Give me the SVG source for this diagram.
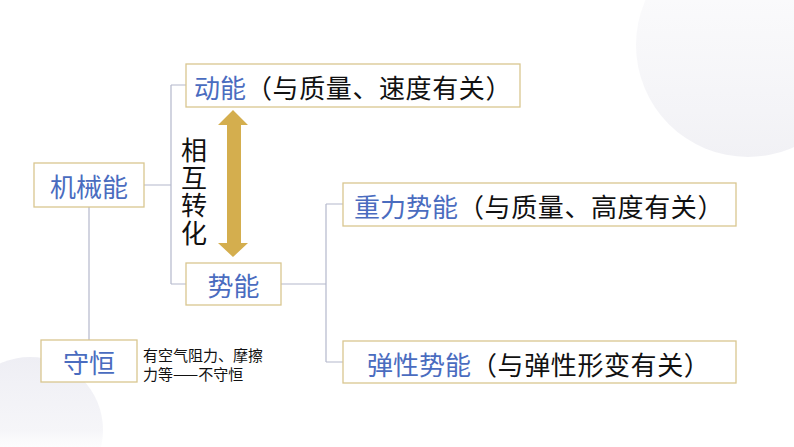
<svg xmlns="http://www.w3.org/2000/svg" width="794" height="447" viewBox="0 0 794 447">
<defs>
<linearGradient id="gTR" x1="0" y1="0" x2="0" y2="1">
<stop offset="0" stop-color="#f3f3f7" stop-opacity="0"/>
<stop offset="0.45" stop-color="#f5f5f8" stop-opacity="0.7"/>
<stop offset="1" stop-color="#f1f1f5" stop-opacity="1"/>
</linearGradient>
<linearGradient id="gBL" x1="0" y1="0" x2="0" y2="1">
<stop offset="0" stop-color="#eeeef4" stop-opacity="1"/>
<stop offset="0.5" stop-color="#f3f3f7" stop-opacity="0.8"/>
<stop offset="0.75" stop-color="#ffffff" stop-opacity="0"/>
</linearGradient>
<style>
.box{fill:#ffffff;stroke:#d9c690;stroke-width:1.3}
.con{fill:none;stroke:#b4b8cc;stroke-width:1.2}
.t{font-family:"Noto Sans CJK SC","Noto Sans",sans-serif;font-size:26px;dominant-baseline:central;text-spacing-trim:space-all}
.blue{fill:#4a6cbf}
.blk{fill:#111111;letter-spacing:0.6px}
.small{font-family:"Noto Sans CJK SC","Noto Sans",sans-serif;font-size:15px;fill:#111111;dominant-baseline:central}
</style>
</defs>
<rect x="0" y="0" width="794" height="447" fill="#ffffff"/>
<circle cx="748" cy="45" r="112" fill="url(#gTR)"/>
<circle cx="30" cy="430" r="73" fill="url(#gBL)"/>

<g id="connectors">
<path class="con" d="M144 185 H171 M171 85 V284 M171 85 H186 M171 284 H186"/>
<path class="con" d="M89 207 V340"/>
<path class="con" d="M281 284 H326 M326 204 V362 M326 204 H343 M326 362 H343"/>
</g>

<g id="arrow">
<polygon fill="#d4ae4e" points="233,110 248,125 241,125 241,243 248,243 233,257 218,243 227,243 227,125 218,125"/>
<text class="t" fill="#111111" x="194" y="137" writing-mode="tb" letter-spacing="1.7">相互转化</text>
</g>

<g id="node-jixieneng">
<rect class="box" x="34" y="163" width="110" height="44"/>
<text class="t blue" x="89" y="185.5" text-anchor="middle">机械能</text>
</g>

<g id="node-dongneng">
<rect class="box" x="186" y="64" width="334" height="43"/>
<text class="t" x="194" y="86"><tspan class="blue">动能</tspan><tspan class="blk">（与质量、速度有关）</tspan></text>
</g>

<g id="node-shineng">
<rect class="box" x="186" y="263" width="95" height="42"/>
<text class="t blue" x="233.5" y="284.5" text-anchor="middle">势能</text>
</g>

<g id="node-zhongli">
<rect class="box" x="343" y="183" width="393" height="43"/>
<text class="t" x="354" y="205"><tspan class="blue">重力势能</tspan><tspan class="blk">（与质量、高度有关）</tspan></text>
</g>

<g id="node-tanxing">
<rect class="box" x="343" y="341" width="393" height="42"/>
<text class="t" x="367" y="362.5"><tspan class="blue">弹性势能</tspan><tspan class="blk">（与弹性形变有关）</tspan></text>
</g>

<g id="node-shouheng">
<rect class="box" x="41" y="340" width="96" height="42"/>
<text class="t blue" x="89" y="361.5" text-anchor="middle">守恒</text>
<text class="small" x="143" y="354">有空气阻力、摩擦</text>
<text class="small" x="143" y="373">力等——不守恒</text>
</g>
</svg>
